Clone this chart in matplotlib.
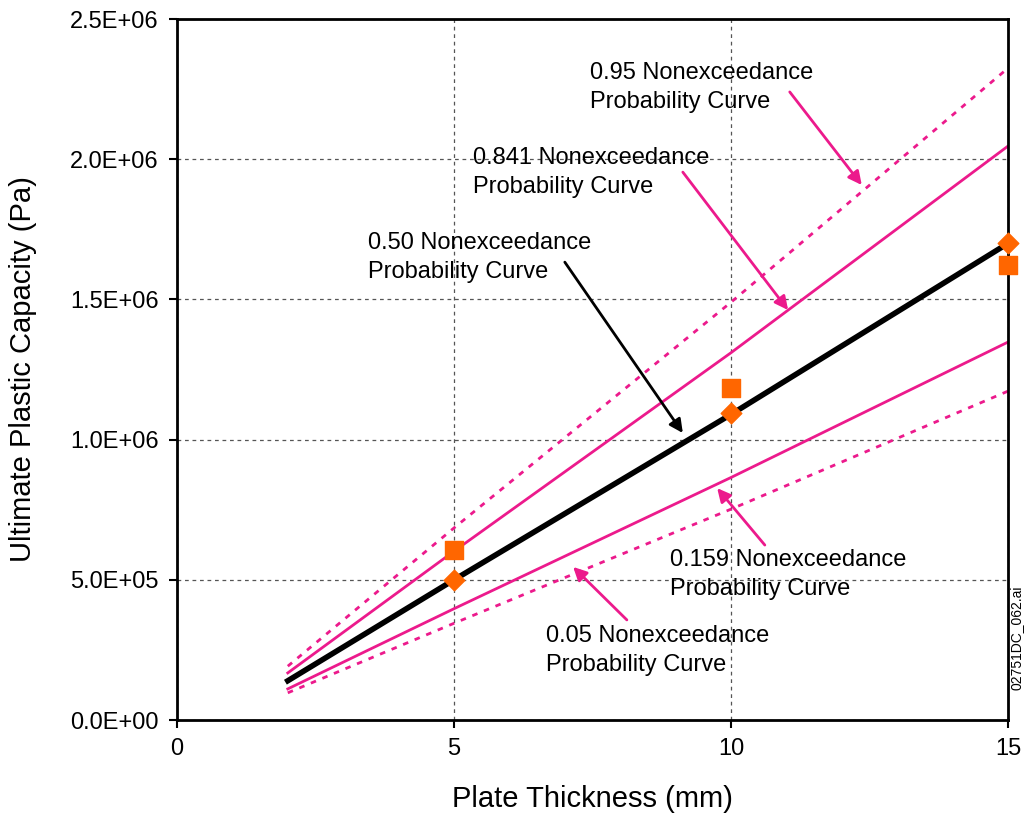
import matplotlib.pyplot as plt
from matplotlib.ticker import FuncFormatter

plt.rcParams['font.family'] = ['Liberation Sans', 'DejaVu Sans']

# curves (straight lines between plate thickness 2 and 15 mm)
thick = [2, 5, 10, 15]
p50 = [1.40e5, 5.00e5, 1.09e6, 1.70e6]
p841 = [1.68e5, 6.02e5, 1.31e6, 2.047e6]
p95 = [1.92e5, 6.85e5, 1.49e6, 2.325e6]
p159 = [1.11e5, 3.97e5, 8.65e5, 1.348e6]
p05 = [0.97e5, 3.45e5, 7.52e5, 1.173e6]

# test data points
pt_x = [5, 10, 15]
sq_y = [6.05e5, 1.183e6, 1.623e6]
dia_y = [5.00e5, 1.095e6, 1.70e6]

pink = '#EC1A8C'
orange = '#FF6600'

fig = plt.figure(figsize=(10.26, 8.17), dpi=100)
ax = fig.add_axes([0.1725, 0.1187, 0.81, 0.858])

ax.plot(thick, p95, color=pink, lw=2, ls=(0, (2, 2.5)))
ax.plot(thick, p841, color=pink, lw=2)
ax.plot(thick, p159, color=pink, lw=2)
ax.plot(thick, p05, color=pink, lw=2, ls=(0, (2, 2.5)))
ax.plot(thick, p50, color='black', lw=4, zorder=3)

ax.scatter(pt_x, sq_y, marker='s', s=160, color=orange, zorder=4, clip_on=False)
ax.scatter(pt_x, dia_y, marker='D', s=110, color=orange, zorder=4, clip_on=False)

ax.set_xlim(0, 15)
ax.set_ylim(0, 2.5e6)
ax.set_xticks([0, 5, 10, 15])
ax.set_yticks([0, 5e5, 1e6, 1.5e6, 2e6, 2.5e6])
ax.yaxis.set_major_formatter(FuncFormatter(lambda v, p: '%.1E' % v))
ax.grid(True, color='#555555', ls=(0, (3, 3)), lw=0.9)
ax.tick_params(labelsize=17, length=6, width=1.5, direction='out', pad=7)
for s in ax.spines.values():
    s.set_linewidth(2)

ax.set_xlabel('Plate Thickness (mm)', fontsize=21, labelpad=18)
ax.set_ylabel('Ultimate Plastic Capacity (Pa)', fontsize=21, labelpad=24)

notes = [
    ('0.95 Nonexceedance\nProbability Curve', (7.45, 2.347e6), (11.06, 2.24e6), (12.36, 1.908e6), pink),
    ('0.841 Nonexceedance\nProbability Curve', (5.34, 2.044e6), (9.13, 1.954e6), (11.03, 1.462e6), pink),
    ('0.50 Nonexceedance\nProbability Curve', (3.45, 1.740e6), (7.0, 1.633e6), (9.13, 1.0235e6), 'black'),
    ('0.159 Nonexceedance\nProbability Curve', (8.90, 6.10e5), (10.61, 6.24e5), (9.75, 8.27e5), pink),
    ('0.05 Nonexceedance\nProbability Curve', (6.66, 3.39e5), (8.12, 3.57e5), (7.15, 5.46e5), pink),
]
for txt, pos, start, tip, col in notes:
    ax.text(pos[0], pos[1], txt, fontsize=17, ha='left', va='top', linespacing=1.4)
    ax.annotate('', xy=tip, xytext=start,
                arrowprops=dict(arrowstyle='-|>', color=col, lw=2, mutation_scale=20,
                                shrinkA=0, shrinkB=0))

fig.text(0.991, 0.22, '02751DC_062.ai', rotation=90, fontsize=10, ha='center', va='center')

fig.savefig('out.png', dpi=100)
